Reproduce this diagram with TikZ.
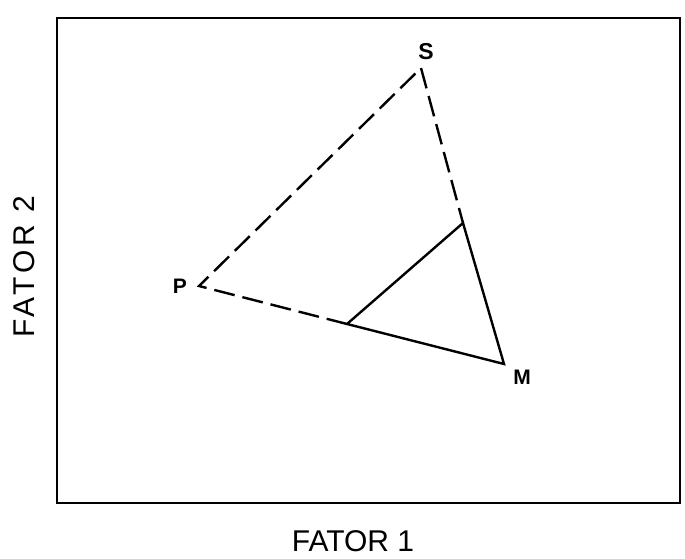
\documentclass[tikz,border=0pt]{standalone}
\usepackage{fontspec}
\setmainfont{Liberation Sans}
\begin{document}
\begin{tikzpicture}[x=1pt,y=-1pt,
  vertex/.style={font=\fontsize{21}{21}\selectfont\bfseries,inner sep=0pt},
  axislabel/.style={inner sep=0pt},
  side/.style={line width=2.4pt},
  broken/.style={side,dash pattern=on 21pt off 8pt}]
\useasboundingbox (0,0) rectangle (685,559);
\draw[line width=2.2pt] (57,18) rectangle (680,503);

\coordinate (P) at (199,286);
\coordinate (S) at (421,68);
\coordinate (M) at (504,364);
\coordinate (A) at (347,324);
\coordinate (B) at (463,223);

\draw[broken] (A) -- (P) -- (S) -- (B);
\draw[side] (A) -- (B) -- (M) -- cycle;

\node[vertex] (lP) at (180,286) {P};
\node[vertex,font=\fontsize{23}{23}\selectfont\bfseries] (lS) at (426,52) {S};
\node[vertex] (lM) at (522,377) {M};

\node[axislabel,font=\fontsize{30}{30}\selectfont] (f1) at (353,541) {FATOR 1};
\node[axislabel,font=\fontsize{30}{30}\selectfont\addfontfeature{LetterSpace=13},rotate=90] (f2) at (24,267) {FATOR 2};
\end{tikzpicture}
\end{document}
